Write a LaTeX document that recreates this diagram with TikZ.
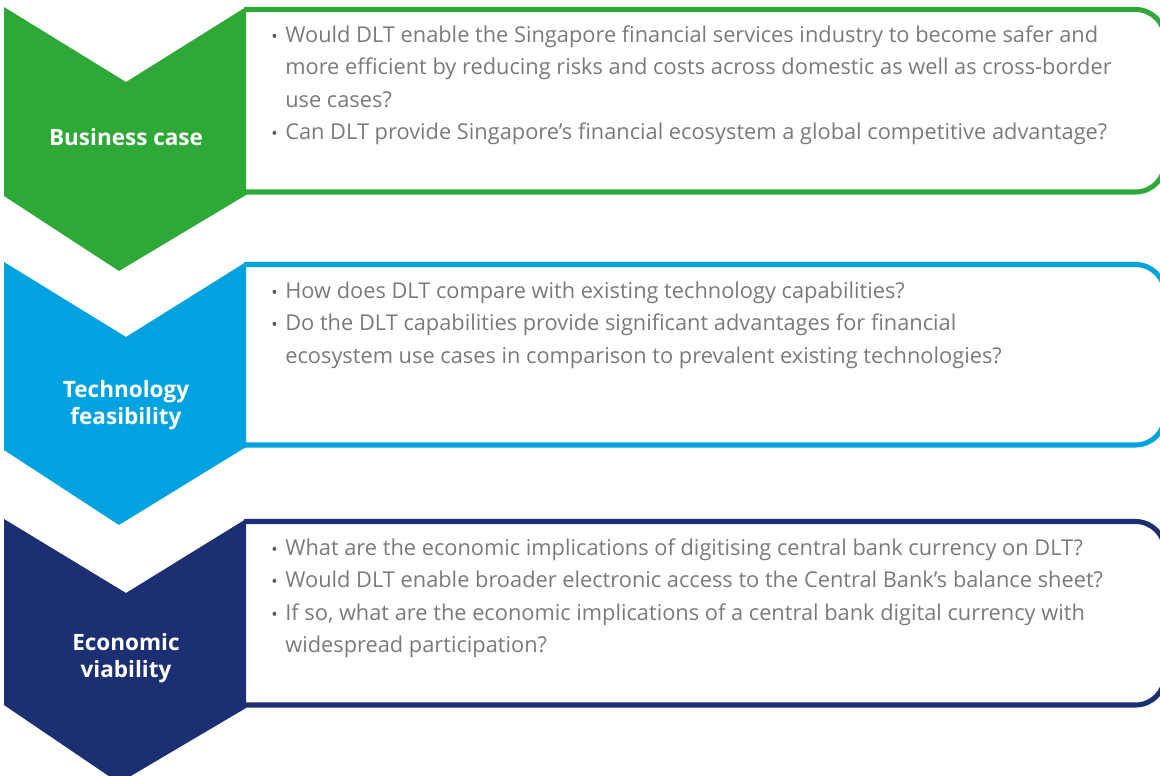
\documentclass[tikz,border=0pt]{standalone}
\usepackage{fontspec}
\setmainfont{Open Sans}
\usetikzlibrary{positioning}
\definecolor{bizgreen}{HTML}{2EA836}
\definecolor{techblue}{HTML}{00A3E0}
\definecolor{econavy}{HTML}{1B2F72}
\definecolor{qgray}{HTML}{7A7A7A}
\newcommand{\qbul}{\makebox[10pt][l]{\textcolor{qgray!75!black}{\large\textbullet}}}
\newcommand{\qind}{\hspace*{10pt}}

\begin{document}
\begin{tikzpicture}[x=0.025cm, y=-0.025cm,
  stagelabel/.style={text=white, font=\fontsize{16}{19}\selectfont\bfseries, align=center},
  qtext/.style={text=qgray, font=\fontsize{15.5}{23.1}\selectfont, align=left, anchor=north west, inner sep=0pt},
  frame/.style={line width=3.6pt, rounded corners=21pt}]
\useasboundingbox (0,0) rectangle (1160,776);

% business case
\fill[bizgreen] (4,7) -- (126,82) -- (246,7) -- (246,195) -- (119,271) -- (4,196) -- cycle;
\draw[frame, bizgreen] (244,9.5) -| (1165,192) -- (244,192);
\node[stagelabel] (biz) at (126,137) {Business case};
\node[qtext] (bizq) at (271,25.5) {\qbul Would DLT enable the Singapore financial services industry to become safer and\\
  \qind more efficient by reducing risks and costs across domestic as well as cross-border\\
  \qind use cases?\\
  \qbul Can DLT provide Singapore’s financial ecosystem a global competitive advantage?};

% technology feasibility
\fill[techblue] (4,262) -- (126,337) -- (246,262) -- (246,447) -- (119,525) -- (4,450) -- cycle;
\draw[frame, techblue] (244,264.5) -| (1165,445) -- (244,445);
\node[stagelabel] (tech) at (126,405) {Technology\\feasibility};
\node[qtext] (techq) at (271,281.5) {\qbul How does DLT compare with existing technology capabilities?\\
  \qbul Do the DLT capabilities provide significant advantages for financial\\
  \qind ecosystem use cases in comparison to prevalent existing technologies?};

% economic viability
\fill[econavy] (4,519) -- (126,593) -- (246,519) -- (246,708) -- (119,783) -- (4,705) -- cycle;
\draw[frame, econavy] (244,521.5) -| (1165,705) -- (244,705);
\node[stagelabel] (econ) at (126,658) {Economic\\viability};
\node[qtext] (econq) at (271,538.5) {\qbul What are the economic implications of digitising central bank currency on DLT?\\
  \qbul Would DLT enable broader electronic access to the Central Bank’s balance sheet?\\
  \qbul If so, what are the economic implications of a central bank digital currency with\\
  \qind widespread participation?};
\end{tikzpicture}
\end{document}
